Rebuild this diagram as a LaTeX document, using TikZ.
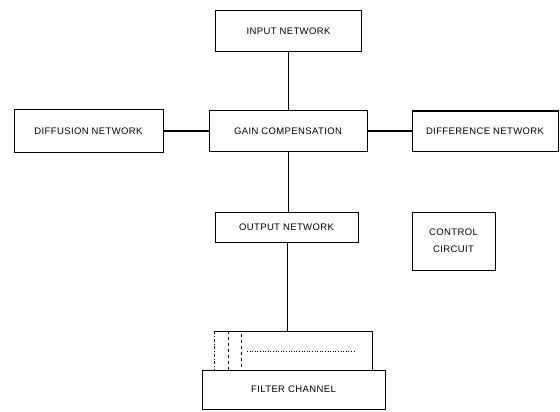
\documentclass[tikz,border=0pt]{standalone}
\usepackage{fontspec}
\setmainfont{Liberation Sans}
\begin{document}
\begin{tikzpicture}[x=1pt,y=-1pt,
  blk/.style={draw, line width=1pt, inner sep=0pt, font=\fontsize{9.5}{12}\selectfont\addfontfeature{LetterSpace=4}, align=center},
  conn/.style={line width=0.8pt},
  hconn/.style={line width=1.8pt}]
\useasboundingbox (0,0) rectangle (560,412);
% blocks
\node[blk, minimum width=146pt, minimum height=41pt] (in) at (288.5,31) {INPUT NETWORK};
\node[blk, minimum width=158pt, minimum height=41pt] (gain) at (288,131) {GAIN COMPENSATION};
\node[blk, minimum width=149pt, minimum height=42pt] (diff) at (88.5,131) {DIFFUSION NETWORK};
\node[blk, minimum width=146pt, minimum height=40pt] (dif) at (485,131) {DIFFERENCE NETWORK};
\node[blk, minimum width=143pt, minimum height=30pt] (out) at (286.5,227) {OUTPUT NETWORK};
\node[blk, minimum width=83pt, minimum height=58pt] (ctl) at (453.5,241) {CONTROL\\[5pt]CIRCUIT};
\node[blk, minimum width=183pt, minimum height=39pt] (filt) at (293.5,389.5) {FILTER CHANNEL};
% filter stack above channel
\coordinate (ftop) at (287,331);
\draw[line width=0.9pt] (228,331) -- (372,331) -- (372,370);
\draw[line width=0.5pt] (214,331) -- (228,331);
\draw[line width=0.5pt, dash dot] (214,331) -- (214,370);
\draw[line width=0.5pt, dashed] (228,331) -- (228,370);
\draw[line width=0.5pt, dashed] (241,334) -- (241,370);
\draw[line width=0.6pt, dotted] (247,351) -- (355,351);
% connectors
\draw[conn] (in.south -| gain.north) -- (gain.north);
\draw[conn] (gain.south) -- (gain.south |- out.north);
\draw[conn, line width=0.5pt] (out.south -| ftop) -- (ftop);
\draw[hconn] (diff.east) -- (gain.west);
\draw[hconn] (gain.east) -- (dif.west);
\end{tikzpicture}
\end{document}
